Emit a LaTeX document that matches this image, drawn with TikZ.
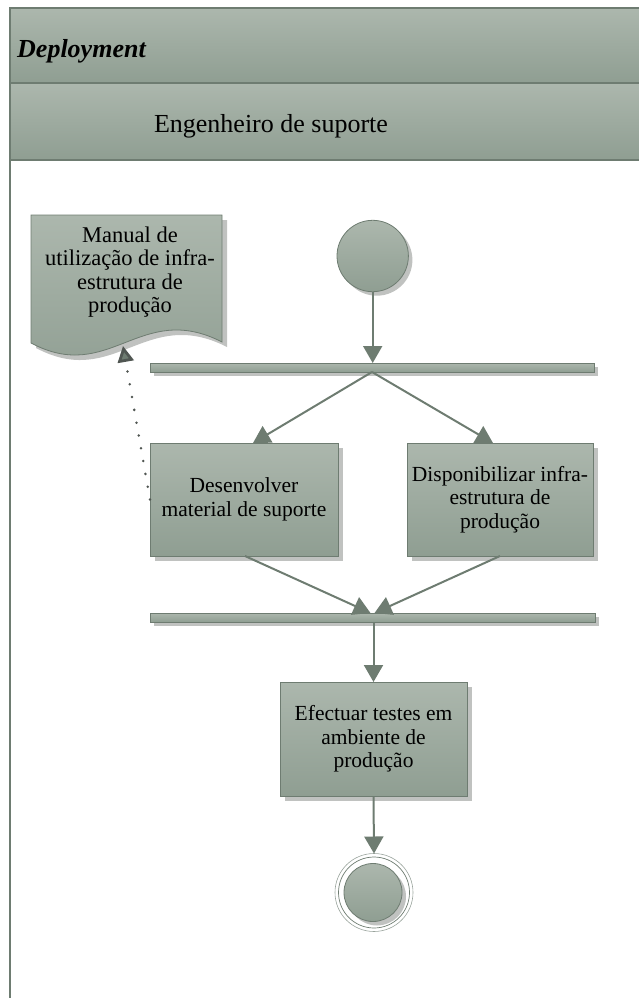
\documentclass[tikz,border=0pt]{standalone}
\usepackage{fontspec}
\setmainfont{Liberation Serif}
\usetikzlibrary{arrows.meta,shadows}

\definecolor{fillTop}{RGB}{172,183,173}
\definecolor{fillBot}{RGB}{143,158,146}
\definecolor{edge}{RGB}{110,124,113}
\definecolor{dotgray}{RGB}{80,86,82}
\definecolor{shade}{RGB}{192,194,192}

\tikzset{
  greenfill/.style={top color=fillTop, bottom color=fillBot},
  castshadow/.style={drop shadow={shadow xshift=#1, shadow yshift=-#1, opacity=1, fill=shade}},
  lanehead/.style={draw=edge, line width=1.8pt, greenfill},
  activity/.style={rectangle, draw=edge, line width=0.8pt, greenfill, castshadow=5pt,
    minimum width=188pt, minimum height=113pt, inner sep=0pt, outer sep=0pt,
    align=center, font=\fontsize{21.5}{23.5}\selectfont},
  syncbar/.style={rectangle, draw=edge, line width=0.8pt, greenfill, castshadow=4pt,
    minimum width=444pt, minimum height=9pt, inner sep=0pt, outer sep=0pt},
  startnode/.style={circle, draw=edge, line width=0.8pt, greenfill, castshadow=4pt,
    minimum size=71.4pt, inner sep=0pt, outer sep=0pt},
  flow/.style={draw=edge, line width=2pt, -{Triangle[width=19pt,length=17pt]}},
  refline/.style={draw=dotgray, line width=2.8pt, line cap=round, dash pattern=on 0pt off 13pt,
    -{Triangle[width=16pt,length=16pt,fill=edge]}},
}

\begin{document}
\begin{tikzpicture}[x=1pt,y=1pt]
  \useasboundingbox (0,0) rectangle (639,-998);
  \clip (0,0) rectangle (639,-998);

  % swimlane frame and headers
  \draw[lanehead] (10,-8) rectangle (660,-83);
  \draw[lanehead] (10,-83) rectangle (660,-160);
  \draw[edge, line width=1.8pt] (10,-160) -- (10,-1010);
  \node[anchor=base west, inner sep=0pt, font=\fontsize{26}{30}\selectfont\bfseries\itshape] (lanetitle) at (17,-57) {Deployment};
  \node[anchor=base, inner sep=0pt, font=\fontsize{26}{30}\selectfont] (role) at (271,-132) {Engenheiro de suporte};

  % document artifact
  \path[draw=edge, line width=0.8pt, greenfill, castshadow=5pt]
    (31,-215) -- (222,-215) -- (222,-342)
    .. controls (140,-300) and (110,-385) .. (31,-343) -- cycle;
  \coordinate (doctip) at (123,-346);
  \node[align=center, inner sep=0pt, font=\fontsize{22.5}{23.5}\selectfont] (doctext) at (130,-272)
    {Manual de\\utilização de infra-\\estrutura de\\produção};

  % control flow nodes
  \node[startnode] (start) at (372.7,-256) {};
  \node[syncbar] (fork) at (372,-367.5) {};
  \node[activity] (dev) at (244,-499.5) {Desenvolver\\material de suporte};
  \node[activity, minimum width=186pt] (infra) at (500,-499.5) {Disponibilizar infra-\\estrutura de\\produção};
  \node[syncbar, minimum width=445pt] (join) at (372.5,-617.5) {};
  \node[activity, minimum width=187pt, minimum height=114pt] (test) at (373.5,-739) {Efectuar testes em\\ambiente de\\produção};

  % final node
  \node[circle, draw=edge!70, line width=0.6pt, minimum size=78pt, inner sep=0pt, outer sep=0pt] (final) at (374,-892.5) {};
  \node[circle, draw=edge, line width=0.7pt, minimum size=71pt, inner sep=0pt] (finalring) at (final) {};
  \node[circle, draw=edge, line width=0.8pt, greenfill, castshadow=4pt, minimum size=58pt, inner sep=0pt] (finaldot) at (373,-892.5) {};

  % connectors
  \draw[flow] (start) -- (start |- fork.north);
  \draw[flow] (fork.south) -- ([xshift=9pt]dev.north);
  \draw[flow] (fork.south) -- ([xshift=-7pt]infra.north);
  \draw[flow] ([xshift=1pt]dev.south) -- ([xshift=-2pt]join.north);
  \draw[flow] (infra.south) -- ([xshift=2pt]join.north);
  \draw[flow] (test.north |- join.south) -- (test.north);
  \draw[flow] (test.south) -- (final.north);
  \draw[refline] (dev.west) -- (doctip);
\end{tikzpicture}
\end{document}
